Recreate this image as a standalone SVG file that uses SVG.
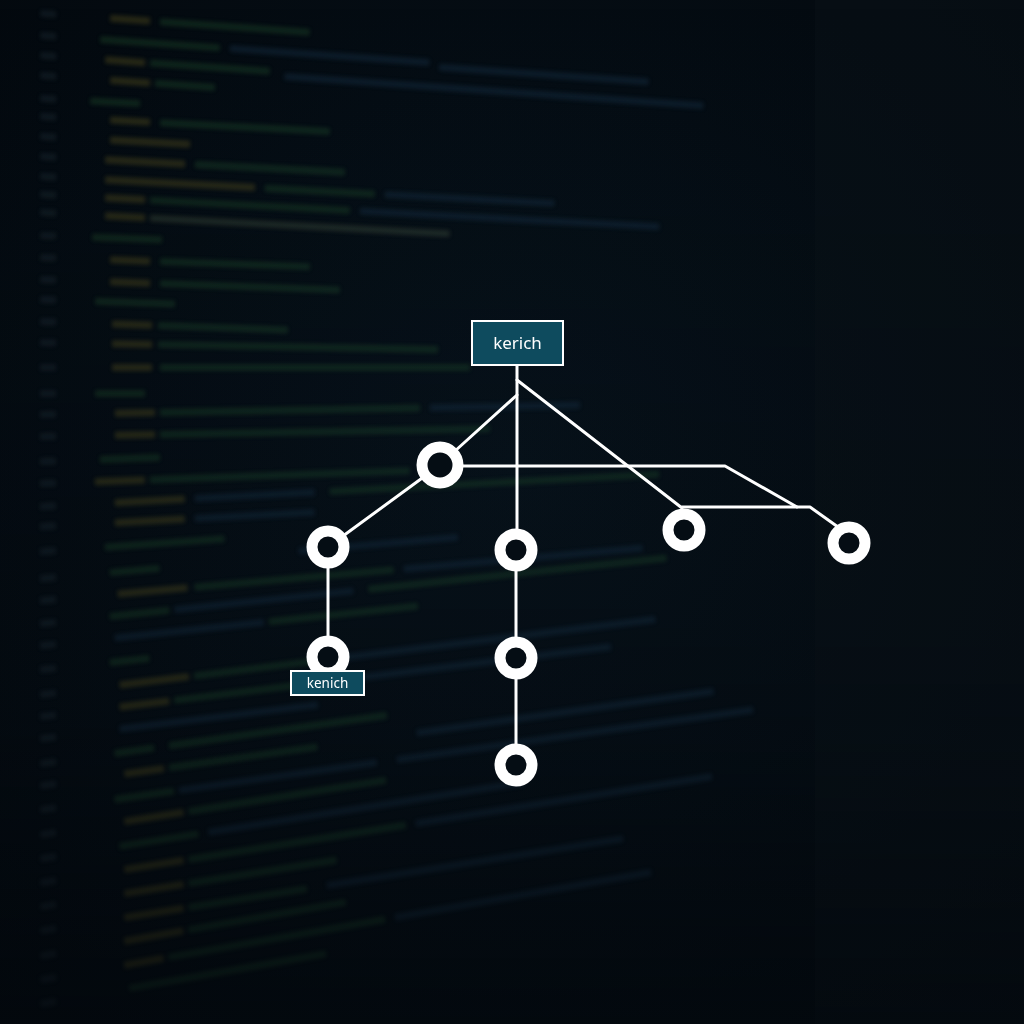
<svg xmlns="http://www.w3.org/2000/svg" width="1024" height="1024" viewBox="0 0 1024 1024">
<defs>
<radialGradient id="bg" cx="0.5" cy="0.45" r="0.75">
<stop offset="0" stop-color="#07121b"/>
<stop offset="1" stop-color="#03080d"/>
</radialGradient>
<linearGradient id="fade" x1="0" y1="0" x2="0" y2="1">
<stop offset="0" stop-color="#03080d" stop-opacity="0"/>
<stop offset="0.7" stop-color="#03080d" stop-opacity="0.15"/>
<stop offset="1" stop-color="#03080d" stop-opacity="0.6"/>
</linearGradient>
<filter id="blur" x="-5%" y="-5%" width="110%" height="110%"><feGaussianBlur stdDeviation="2"/></filter>
<style>
.o{fill:#7a6e26}
.g{fill:#2c6136}
.b{fill:#23425e}
.n{fill:#2c3a44}
.w{fill:#5a6a50}
.edge{stroke:#ffffff;stroke-width:3;fill:none;stroke-linecap:round;stroke-linejoin:round}
.ring{fill:#050d14;stroke:#ffffff;stroke-width:11}
.box{fill:#0e4b5e;stroke:#ffffff;stroke-width:2}
.lbl{font-family:"Noto Sans","DejaVu Sans",sans-serif;fill:#ffffff;text-anchor:middle}
</style>
</defs>
<rect width="1024" height="1024" fill="url(#bg)"/>
<rect x="815" y="0" width="209" height="1024" fill="#0a1218" opacity="0.5"/>
<g id="code-background" filter="url(#blur)" opacity="0.3">
<g transform="rotate(4 100 20)"><rect class="n" x="40" y="14" width="16" height="7"/><rect class="o" x="110" y="14" width="40" height="7"/><rect class="g" x="160" y="14" width="150" height="7"/></g>
<g transform="rotate(4 100 42)"><rect class="n" x="40" y="36" width="16" height="7"/><rect class="g" x="100" y="36" width="120" height="7"/><rect class="b" x="230" y="36" width="200" height="7"/><rect class="b" x="440" y="40" width="210" height="7"/></g>
<g transform="rotate(4 100 62)"><rect class="n" x="40" y="56" width="16" height="7"/><rect class="o" x="105" y="56" width="40" height="7"/><rect class="g" x="150" y="56" width="120" height="7"/><rect class="b" x="285" y="60" width="420" height="7"/></g>
<g transform="rotate(4 100 82)"><rect class="n" x="40" y="76" width="16" height="7"/><rect class="o" x="110" y="76" width="40" height="7"/><rect class="g" x="155" y="76" width="60" height="7"/></g>
<g transform="rotate(3 100 104)"><rect class="n" x="40" y="98" width="16" height="7"/><rect class="g" x="90" y="98" width="50" height="7"/></g>
<g transform="rotate(3 100 122)"><rect class="n" x="40" y="116" width="16" height="7"/><rect class="o" x="110" y="116" width="40" height="7"/><rect class="g" x="160" y="116" width="170" height="7"/></g>
<g transform="rotate(3 100 142)"><rect class="n" x="40" y="136" width="16" height="7"/><rect class="o" x="110" y="136" width="80" height="7"/></g>
<g transform="rotate(3 100 162)"><rect class="n" x="40" y="156" width="16" height="7"/><rect class="o" x="105" y="156" width="80" height="7"/><rect class="g" x="195" y="156" width="150" height="7"/></g>
<g transform="rotate(3 100 182)"><rect class="n" x="40" y="176" width="16" height="7"/><rect class="o" x="105" y="176" width="150" height="7"/><rect class="g" x="265" y="176" width="110" height="7"/><rect class="b" x="385" y="176" width="170" height="7"/></g>
<g transform="rotate(3 100 200)"><rect class="n" x="40" y="194" width="16" height="7"/><rect class="o" x="105" y="194" width="40" height="7"/><rect class="g" x="150" y="194" width="200" height="7"/><rect class="b" x="360" y="194" width="300" height="7"/></g>
<g transform="rotate(3 100 218)"><rect class="n" x="40" y="212" width="16" height="7"/><rect class="o" x="105" y="212" width="40" height="7"/><rect class="w" x="150" y="212" width="300" height="7"/></g>
<g transform="rotate(2 100 240)"><rect class="n" x="40" y="234" width="16" height="7"/><rect class="g" x="92" y="234" width="70" height="7"/></g>
<g transform="rotate(2 100 262)"><rect class="n" x="40" y="256" width="16" height="7"/><rect class="o" x="110" y="256" width="40" height="7"/><rect class="g" x="160" y="256" width="150" height="7"/></g>
<g transform="rotate(2 100 284)"><rect class="n" x="40" y="278" width="16" height="7"/><rect class="o" x="110" y="278" width="40" height="7"/><rect class="g" x="160" y="278" width="180" height="7"/></g>
<g transform="rotate(2 100 304)"><rect class="n" x="40" y="298" width="16" height="7"/><rect class="g" x="95" y="298" width="80" height="7"/></g>
<g transform="rotate(2 100 326)"><rect class="n" x="40" y="320" width="16" height="7"/><rect class="o" x="112" y="320" width="40" height="7"/><rect class="g" x="158" y="320" width="130" height="7"/></g>
<g transform="rotate(1 100 346)"><rect class="n" x="40" y="340" width="16" height="7"/><rect class="o" x="112" y="340" width="40" height="7"/><rect class="g" x="158" y="340" width="280" height="7"/></g>
<g transform="rotate(0 100 370)"><rect class="n" x="40" y="364" width="16" height="7"/><rect class="o" x="112" y="364" width="40" height="7"/><rect class="g" x="160" y="364" width="310" height="7"/></g>
<g transform="rotate(0 100 396)"><rect class="n" x="40" y="390" width="16" height="7"/><rect class="g" x="95" y="390" width="50" height="7"/></g>
<g transform="rotate(-1 100 416)"><rect class="n" x="40" y="410" width="16" height="7"/><rect class="o" x="115" y="410" width="40" height="7"/><rect class="g" x="160" y="410" width="260" height="7"/><rect class="b" x="430" y="410" width="150" height="7"/></g>
<g transform="rotate(-1 100 438)"><rect class="n" x="40" y="432" width="16" height="7"/><rect class="o" x="115" y="432" width="40" height="7"/><rect class="g" x="160" y="432" width="330" height="7"/></g>
<g transform="rotate(-2 100 462)"><rect class="n" x="40" y="456" width="16" height="7"/><rect class="g" x="100" y="456" width="60" height="7"/></g>
<g transform="rotate(-2 100 484)"><rect class="n" x="40" y="478" width="16" height="7"/><rect class="o" x="95" y="478" width="50" height="7"/><rect class="g" x="150" y="478" width="260" height="7"/></g>
<g transform="rotate(-3 100 506)"><rect class="n" x="40" y="500" width="16" height="7"/><rect class="o" x="115" y="500" width="70" height="7"/><rect class="b" x="195" y="500" width="120" height="7"/><rect class="g" x="330" y="500" width="330" height="7"/></g>
<g transform="rotate(-3 100 526)"><rect class="n" x="40" y="520" width="16" height="7"/><rect class="o" x="115" y="520" width="70" height="7"/><rect class="b" x="195" y="520" width="120" height="7"/></g>
<g transform="rotate(-4 100 550)"><rect class="n" x="40" y="544" width="16" height="7"/><rect class="g" x="105" y="544" width="120" height="7"/></g>
<g transform="rotate(-5 100 576)"><rect class="n" x="40" y="570" width="16" height="7"/><rect class="g" x="110" y="570" width="50" height="7"/><rect class="b" x="300" y="565" width="160" height="7"/></g>
<g transform="rotate(-5 100 598)"><rect class="n" x="40" y="592" width="16" height="7"/><rect class="o" x="118" y="592" width="70" height="7"/><rect class="g" x="195" y="592" width="200" height="7"/><rect class="b" x="405" y="592" width="240" height="7"/></g>
<g transform="rotate(-6 100 620)"><rect class="n" x="40" y="614" width="16" height="7"/><rect class="g" x="110" y="614" width="60" height="7"/><rect class="b" x="175" y="614" width="180" height="7"/><rect class="g" x="370" y="614" width="300" height="7"/></g>
<g transform="rotate(-6 100 642)"><rect class="n" x="40" y="636" width="16" height="7"/><rect class="b" x="115" y="636" width="150" height="7"/><rect class="g" x="270" y="636" width="150" height="7"/></g>
<g transform="rotate(-6 100 666)"><rect class="n" x="40" y="660" width="16" height="7"/><rect class="g" x="110" y="660" width="40" height="7"/></g>
<g transform="rotate(-7 100 690)"><rect class="n" x="40" y="684" width="16" height="7"/><rect class="o" x="120" y="684" width="70" height="7"/><rect class="g" x="195" y="684" width="120" height="7"/><rect class="b" x="330" y="684" width="330" height="7"/></g>
<g transform="rotate(-7 100 712)"><rect class="n" x="40" y="706" width="16" height="7"/><rect class="o" x="120" y="706" width="50" height="7"/><rect class="g" x="175" y="706" width="180" height="7"/><rect class="b" x="365" y="706" width="250" height="7"/></g>
<g transform="rotate(-7 100 734)"><rect class="n" x="40" y="728" width="16" height="7"/><rect class="b" x="120" y="728" width="200" height="7"/></g>
<g transform="rotate(-8 100 758)"><rect class="n" x="40" y="752" width="16" height="7"/><rect class="g" x="115" y="752" width="40" height="7"/><rect class="g" x="170" y="752" width="220" height="7"/></g>
<g transform="rotate(-8 100 780)"><rect class="n" x="40" y="774" width="16" height="7"/><rect class="o" x="125" y="774" width="40" height="7"/><rect class="g" x="170" y="774" width="150" height="7"/><rect class="b" x="420" y="774" width="300" height="7"/></g>
<g transform="rotate(-8 100 804)"><rect class="n" x="40" y="798" width="16" height="7"/><rect class="g" x="115" y="798" width="60" height="7"/><rect class="b" x="180" y="798" width="200" height="7"/><rect class="b" x="400" y="798" width="360" height="7"/></g>
<g transform="rotate(-9 100 828)"><rect class="n" x="40" y="822" width="16" height="7"/><rect class="o" x="125" y="822" width="60" height="7"/><rect class="g" x="190" y="822" width="200" height="7"/></g>
<g transform="rotate(-9 100 852)"><rect class="n" x="40" y="846" width="16" height="7"/><rect class="g" x="120" y="846" width="80" height="7"/><rect class="b" x="210" y="846" width="320" height="7"/></g>
<g transform="rotate(-9 100 876)"><rect class="n" x="40" y="870" width="16" height="7"/><rect class="o" x="125" y="870" width="60" height="7"/><rect class="g" x="190" y="870" width="220" height="7"/><rect class="b" x="420" y="870" width="300" height="7"/></g>
<g transform="rotate(-9 100 900)"><rect class="n" x="40" y="894" width="16" height="7"/><rect class="o" x="125" y="894" width="60" height="7"/><rect class="g" x="190" y="894" width="150" height="7"/></g>
<g transform="rotate(-9 100 924)"><rect class="n" x="40" y="918" width="16" height="7"/><rect class="o" x="125" y="918" width="60" height="7"/><rect class="g" x="190" y="918" width="120" height="7"/><rect class="b" x="330" y="918" width="300" height="7"/></g>
<g transform="rotate(-10 100 948)"><rect class="n" x="40" y="942" width="16" height="7"/><rect class="o" x="125" y="942" width="60" height="7"/><rect class="g" x="190" y="942" width="160" height="7"/></g>
<g transform="rotate(-10 100 972)"><rect class="n" x="40" y="966" width="16" height="7"/><rect class="o" x="125" y="966" width="40" height="7"/><rect class="g" x="170" y="966" width="220" height="7"/><rect class="b" x="400" y="966" width="260" height="7"/></g>
<g transform="rotate(-10 100 996)"><rect class="n" x="40" y="990" width="16" height="7"/><rect class="g" x="130" y="990" width="200" height="7"/></g>
</g>
<rect width="1024" height="1024" fill="url(#fade)"/>
<g id="connectors">
<path class="edge" d="M517 365 V550"/>
<path class="edge" d="M517 395 L455 451"/>
<path class="edge" d="M517 380 L682 508"/>
<path class="edge" d="M440 465 L343 536"/>
<path class="edge" d="M460 466 H725 L797 507"/>
<path class="edge" d="M682 507 H810 L838 527"/>
<path class="edge" d="M328 547 V657"/>
<path class="edge" d="M516 550 V765"/>
</g>
<g id="node-root"><rect class="box" x="472" y="321" width="91" height="44"/><text class="lbl" x="517.5" y="349" font-size="17">kerich</text></g>
<g id="node-hub"><circle class="ring" cx="440" cy="465" r="18"/></g>
<g id="node-left"><circle class="ring" cx="328" cy="547" r="16"/></g>
<g id="node-left-child"><circle class="ring" cx="328" cy="657" r="16"/></g>
<g id="node-left-label"><rect class="box" x="291" y="671" width="73" height="24"/><text class="lbl" x="327.5" y="688" font-size="13.5">kenich</text></g>
<g id="node-mid1"><circle class="ring" cx="516" cy="550" r="16"/></g>
<g id="node-mid2"><circle class="ring" cx="516" cy="658" r="16"/></g>
<g id="node-mid3"><circle class="ring" cx="516" cy="765" r="16"/></g>
<g id="node-right1"><circle class="ring" cx="684" cy="530" r="16"/></g>
<g id="node-right2"><circle class="ring" cx="849" cy="543" r="16"/></g>
</svg>
